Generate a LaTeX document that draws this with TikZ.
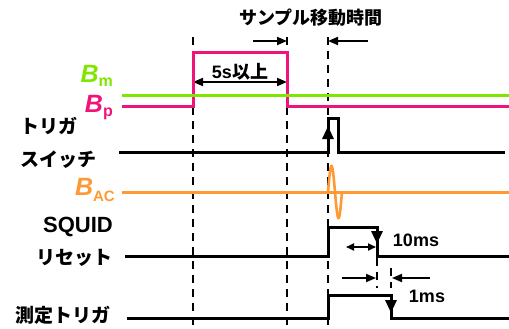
\documentclass[tikz,border=0pt]{standalone}
\usepackage{fontspec}
\setmainfont{Liberation Sans}
\newfontfamily\jp{Noto Sans CJK JP}
\usetikzlibrary{arrows.meta}
\definecolor{gr}{HTML}{80E600}
\definecolor{pk}{HTML}{F0147A}
\definecolor{og}{HTML}{FF9933}
\tikzset{
  guide/.style={black, line width=1.9pt, dash pattern=on 8pt off 6pt},
  sig/.style={line width=3pt, line join=miter},
  dim/.style={black, line width=1.8pt, -{Triangle[length=10pt,width=8pt]}},
  dimtwo/.style={black, line width=1.8pt, {Triangle[length=10pt,width=8pt]}-{Triangle[length=10pt,width=8pt]}},
  edge/.style={black, line width=3pt, -{Triangle[length=13pt,width=11pt]}},
  lbl/.style={font=\jp\bfseries\fontsize{19}{19}\selectfont, inner sep=0pt},
  lat/.style={font=\bfseries\fontsize{18}{18}\selectfont, inner sep=0pt},
}
\begin{document}
\begin{tikzpicture}[x=1pt,y=-1pt]
\useasboundingbox (0,0) rectangle (509,329);
% guide lines
\draw[guide] (193,37) -- (193,329);
\draw[guide] (287,37) -- (287,329);
\draw[guide] (328,37) -- (328,329);
\draw[guide] (377,258) -- (377,288);
\draw[guide] (391,268) -- (391,288);
% title and dimension arrows
\node[lbl, font=\jp\bfseries\fontsize{18}{18}\selectfont] (title) at (311,18) {サンプル移動時間};
\coordinate (t1) at (253,41); \coordinate (t2) at (287,41);
\coordinate (t3) at (368,41); \coordinate (t4) at (328,41);
\draw[dim] (t1) -- (t2);
\draw[dim] (t3) -- (t4);
\node[lat] (five) at (240,72) {5s{\jp 以上}};
\coordinate (f1) at (193,82); \coordinate (f2) at (287,82);
\draw[dimtwo] (f1) -- (f2);
% Bp and Bm
\draw[sig, pk] (122,106) -- (193,106) -- (193,53) -- (287,53) -- (287,106) -- (509,106);
\draw[sig, gr] (122,96) -- (509,96);
\node[anchor=base east, inner sep=0pt, text=gr] (bm) at (113,82)
  {\bfseries\itshape\fontsize{25}{25}\selectfont B\raisebox{-5pt}{\upshape\fontsize{16}{16}\selectfont m}};
\node[anchor=base east, inner sep=0pt, text=pk] (bp) at (113,112)
  {\bfseries\itshape\fontsize{25}{25}\selectfont B\raisebox{-5pt}{\upshape\fontsize{16}{16}\selectfont p}};
% trigger switch
\node[lbl, anchor=west] (trig1) at (20,126) {トリガ};
\node[lbl, anchor=west] (trig2) at (20,160) {スイッチ};
\draw[sig, black] (119,152) -- (328,152) -- (328,118) -- (338,118) -- (338,152) -- (505,152);
\coordinate (a1) at (328,152); \coordinate (a2) at (328,126);
\draw[edge] (a1) -- (a2);
% B_AC
\draw[sig, og] (122,192) -- (509,192);
\draw[og, line width=2.6pt] plot[domain=0:14, samples=40, smooth] ({328+\x}, {192-26*sin(\x*360/14)});
\node[anchor=base east, inner sep=0pt, text=og] (bac) at (115,195)
  {\bfseries\itshape\fontsize{25}{25}\selectfont B\raisebox{-6pt}{\upshape\fontsize{15}{15}\selectfont AC}};
% SQUID reset
\node[lat, anchor=east, font=\bfseries\fontsize{22}{22}\selectfont] (sq) at (113,227) {SQUID};
\node[lbl, anchor=east] (rs) at (113,258) {リセット};
\draw[sig, black] (125,256) -- (328,256) -- (328,227) -- (377,227) -- (377,256) -- (509,256);
\coordinate (s1) at (377,227); \coordinate (s2) at (377,244);
\draw[edge] (s1) -- (s2);
\coordinate (d1) at (346,247); \coordinate (d2) at (376,247);
\draw[black, line width=1.8pt, {Triangle[length=8pt,width=7pt]}-{Triangle[length=8pt,width=7pt]}] (d1) -- (d2);
\node[lat] (ten) at (416,240) {10ms};
% 1ms arrows
\coordinate (m1) at (342,278); \coordinate (m2) at (376,278);
\coordinate (m3) at (430,278); \coordinate (m4) at (392,278);
\draw[dim] (m1) -- (m2);
\draw[dim] (m3) -- (m4);
\node[lat] (one) at (427,296) {1ms};
% measurement trigger
\node[lbl, anchor=east] (mt) at (111,315) {測定トリガ};
\draw[sig, black] (127,318) -- (328,318) -- (328,295) -- (391,295) -- (391,318) -- (509,318);
\coordinate (r1) at (391,295); \coordinate (r2) at (391,313);
\draw[edge] (r1) -- (r2);
\end{tikzpicture}
\end{document}
